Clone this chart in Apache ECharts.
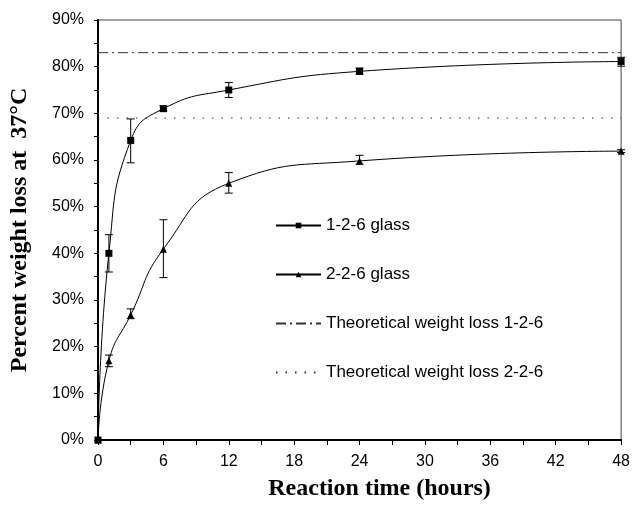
<!DOCTYPE html>
<html>
<head>
<meta charset="utf-8">
<script src="https://cdn.jsdelivr.net/npm/echarts@6/dist/echarts.min.js"></script>
<style>
html,body{margin:0;padding:0;background:#fff;}
#chart{width:633px;height:506px;}
</style>
</head>
<body>
<div id="chart"></div>
<script>
var hours = [0, 1, 3, 6, 12, 24, 48];
var glass126 = [0, 40, 64.2, 71, 75, 79, 81.1];
var err126Low = [0, 36, 59.4, 70.5, 73.4, 78.4, 80.1];
var err126High = [0, 44, 68.8, 71.6, 76.6, 79.7, 82];
var glass226 = [0, 17, 26.8, 40.9, 55, 59.8, 61.9];
var err226Low = [0, 15.7, 26, 34.8, 52.9, 59.1, 61.6];
var err226High = [0, 18.2, 28.1, 47.2, 57.3, 61, 62.2];
var theory126 = 83;
var theory226 = 69;
var xRange = [0, 48];
var seriesNames = ['1-2-6 glass', '2-2-6 glass', 'Theoretical weight loss 1-2-6', 'Theoretical weight loss 2-2-6'];
var xTitle = 'Reaction time (hours)';
var yTitle = 'Percent weight loss at  37\u00B0C';

function pairs(xs, ys) { return xs.map(function (x, i) { return [x, ys[i]]; }); }
function errData(xs, lo, hi) {
  var out = [];
  xs.forEach(function (x, i) { if (hi[i] > lo[i]) out.push([x, lo[i], hi[i]]); });
  return out;
}
function errRender(params, api) {
  var x = api.value(0), lo = api.value(1), hi = api.value(2);
  var t = api.coord([x, hi]), b = api.coord([x, lo]);
  var w = 4;
  var st = { stroke: '#000', lineWidth: 1 };
  return { type: 'group', children: [
    { type: 'line', shape: { x1: t[0], y1: t[1], x2: b[0], y2: b[1] }, style: st },
    { type: 'line', shape: { x1: t[0] - w, y1: t[1], x2: t[0] + w, y2: t[1] }, style: st },
    { type: 'line', shape: { x1: b[0] - w, y1: b[1], x2: b[0] + w, y2: b[1] }, style: st }
  ] };
}

var chart = echarts.init(document.getElementById('chart'), null, { renderer: 'canvas' });
var fontSans = '"Liberation Sans", Arial, sans-serif';
var fontSerif = '"Liberation Serif", "Times New Roman", serif';
var hiddenSymbol = { color: 'rgba(0,0,0,0)', opacity: 0, borderWidth: 0 };

chart.setOption({
  animation: false,
  backgroundColor: '#fff',
  grid: { left: 98, right: 10, top: 20, bottom: 62, show: true, borderColor: '#444', borderWidth: 1 },
  legend: {
    orient: 'vertical', left: 275, top: 217, padding: 0,
    itemWidth: 45, itemHeight: 7, itemGap: 32,
    textStyle: { fontFamily: fontSans, fontSize: 17, color: '#000' },
    data: [
      { name: seriesNames[0] },
      { name: seriesNames[1] },
      { name: seriesNames[2], itemStyle: hiddenSymbol },
      { name: seriesNames[3], itemStyle: hiddenSymbol }
    ]
  },
  xAxis: {
    type: 'value', min: xRange[0], max: xRange[1], interval: 6,
    name: xTitle, nameLocation: 'middle', nameGap: 37,
    nameTextStyle: { fontFamily: fontSerif, fontWeight: 'bold', fontSize: 24, color: '#000', padding: [0, 0, 0, 40] },
    axisLine: { onZero: false, lineStyle: { color: '#000', width: 2 } },
    axisTick: { length: 5, lineStyle: { color: '#000', width: 1 } },
    minorTick: { show: true, splitNumber: 2, length: 5, lineStyle: { color: '#000', width: 1 } },
    axisLabel: { margin: 14, fontFamily: fontSans, fontSize: 16, color: '#000' },
    splitLine: { show: false }
  },
  yAxis: {
    type: 'value', min: 0, max: 90, interval: 10,
    name: yTitle, nameLocation: 'middle', nameGap: 66,
    nameTextStyle: { fontFamily: fontSerif, fontWeight: 'bold', fontSize: 24, color: '#000' },
    axisLine: { onZero: false, lineStyle: { color: '#000', width: 2 } },
    axisTick: { length: 4, lineStyle: { color: '#000', width: 1 } },
    minorTick: { show: true, splitNumber: 2, length: 4, lineStyle: { color: '#000', width: 1 } },
    axisLabel: { margin: 14, fontFamily: fontSans, fontSize: 16, color: '#000', formatter: '{value}%' },
    splitLine: { show: false }
  },
  series: [
    {
      name: seriesNames[0], type: 'line', data: pairs(hours, glass126),
      smooth: 0.5,
      symbol: 'rect', symbolSize: 7,
      lineStyle: { color: '#000', width: 1 }, itemStyle: { color: '#000' }, z: 5
    },
    {
      name: seriesNames[1], type: 'line', data: pairs(hours, glass226),
      smooth: 0.5,
      symbol: 'triangle', symbolSize: 7,
      lineStyle: { color: '#000', width: 1 }, itemStyle: { color: '#000' }, z: 5
    },
    {
      name: seriesNames[2], type: 'line', data: pairs(xRange, [theory126, theory126]),
      symbol: 'none',
      lineStyle: { color: '#333', width: 1, type: [10, 4, 2, 4] }, itemStyle: { color: '#333' }
    },
    {
      name: seriesNames[3], type: 'line', data: pairs(xRange, [theory226, theory226]),
      symbol: 'none',
      lineStyle: { color: '#333', width: 1, type: [1.5, 8] }, itemStyle: { color: '#333' }
    },
    {
      type: 'custom', renderItem: errRender, data: errData(hours, err126Low, err126High),
      encode: { x: 0, y: [1, 2] }, z: 4, silent: true
    },
    {
      type: 'custom', renderItem: errRender, data: errData(hours, err226Low, err226High),
      encode: { x: 0, y: [1, 2] }, z: 4, silent: true
    }
  ]
});
</script>
</body>
</html>
